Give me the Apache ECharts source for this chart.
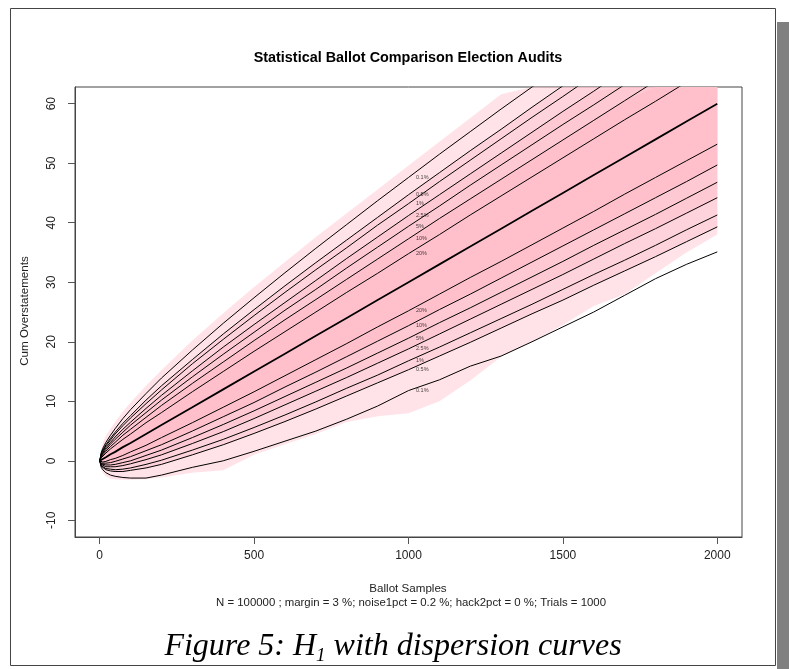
<!DOCTYPE html>
<html>
<head>
<meta charset="utf-8">
<script src="https://cdn.jsdelivr.net/npm/echarts@6/dist/echarts.min.js"></script>
<style>
    html, body { margin: 0; padding: 0; background: #fff; }
    #chart { width: 789px; height: 669px; }
</style>
</head>
<body>
<div id="chart"></div>
<script>
// 抽样点（Ballot Samples）
const ballotSamples = [0, 5, 10, 20, 35, 50, 75, 100, 150, 200, 300, 400, 500, 600, 700, 800, 900, 1000, 1100, 1200, 1300, 1400, 1500, 1600, 1700, 1800, 1900, 2000];

// 分位数曲线（从图上读出，超出上边框之后为 null）
const upper01 = [0, 1.4, 2.1, 3.1, 4.3, 5.4, 7.1, 8.6, 11.3, 13.9, 18.6, 23.1, 27.4, 31.6, 35.7, 39.7, 43.7, 47.6, 51.5, 55.3, 59.1, 62.8, 66.5, null, null, null, null, null];
const upper05 = [0, 1.2, 1.8, 2.7, 3.8, 4.8, 6.3, 7.6, 10.2, 12.6, 17.0, 21.3, 25.4, 29.4, 33.3, 37.1, 40.9, 44.7, 48.4, 52.1, 55.7, 59.4, 63.0, null, null, null, null, null];
const upper1 = [0, 1.1, 1.6, 2.5, 3.5, 4.5, 5.9, 7.2, 9.6, 11.9, 16.3, 20.4, 24.4, 28.3, 32.1, 35.8, 39.6, 43.2, 46.9, 50.5, 54.1, 57.7, 61.2, 64.8, null, null, null, null];
const upper25 = [0, 0.9, 1.4, 2.2, 3.1, 4.0, 5.3, 6.5, 8.8, 11.0, 15.1, 19.1, 22.9, 26.6, 30.3, 34.0, 37.6, 41.2, 44.7, 48.2, 51.7, 55.2, 58.7, 62.1, 65.6, null, null, null];
const upper5 = [0, 0.8, 1.2, 1.9, 2.8, 3.6, 4.8, 6.0, 8.1, 10.2, 14.1, 17.9, 21.6, 25.3, 28.8, 32.4, 35.9, 39.4, 42.8, 46.3, 49.7, 53.1, 56.5, 59.8, 63.2, null, null, null];
const upper10 = [0, 0.7, 1.0, 1.6, 2.4, 3.1, 4.3, 5.3, 7.3, 9.3, 13.0, 16.6, 20.2, 23.7, 27.1, 30.5, 33.9, 37.3, 40.7, 44.0, 47.3, 50.6, 53.9, 57.2, 60.5, 63.8, null, null];
const upper20 = [0, 0.5, 0.8, 1.3, 2.0, 2.6, 3.6, 4.5, 6.4, 8.1, 11.6, 15.0, 18.4, 21.7, 25.0, 28.3, 31.5, 34.8, 38.0, 41.3, 44.5, 47.7, 50.9, 54.1, 57.3, 60.4, 63.6, null];
const median = [0, 0.2, 0.3, 0.6, 1.1, 1.5, 2.3, 3.0, 4.5, 6.0, 9.0, 12.0, 15.0, 18.0, 21.0, 24.0, 27.0, 30.0, 33.0, 36.0, 39.0, 42.0, 45.0, 48.0, 51.0, 54.0, 57.0, 60.0];
const lower20 = [0, -0.2, -0.2, -0.1, 0.2, 0.4, 0.9, 1.5, 2.6, 3.9, 6.4, 9.0, 11.6, 14.3, 17.0, 19.7, 22.5, 25.2, 28.0, 30.8, 33.5, 36.3, 39.1, 41.9, 44.8, 47.6, 50.4, 53.2];
const lower10 = [0, -0.4, -0.4, -0.4, -0.3, -0.1, 0.3, 0.7, 1.7, 2.7, 5.0, 7.4, 9.8, 12.4, 14.9, 17.5, 20.1, 22.7, 25.4, 28.0, 30.7, 33.4, 36.1, 38.8, 41.5, 44.2, 46.9, 49.7];
const lower5 = [0, -0.5, -0.6, -0.7, -0.7, -0.6, -0.3, 0.0, 0.9, 1.8, 3.9, 6.1, 8.4, 10.8, 13.2, 15.6, 18.1, 20.6, 23.2, 25.7, 28.3, 30.9, 33.5, 36.2, 38.8, 41.4, 44.1, 46.8];
const lower25 = [0, -0.6, -0.8, -1.0, -1.0, -1.0, -0.8, -0.5, 0.2, 1.0, 2.9, 4.9, 7.1, 9.4, 11.7, 14.0, 16.4, 18.8, 21.3, 23.8, 26.3, 28.8, 31.3, 33.9, 36.5, 39.0, 41.6, 44.2];
const lower1 = [0, -0.8, -1.0, -1.3, -1.4, -1.5, -1.4, -1.2, -0.6, 0.1, 1.8, 3.6, 5.6, 7.7, 9.9, 12.2, 14.4, 16.8, 19.1, 21.5, 23.9, 26.3, 28.8, 31.3, 33.7, 36.2, 38.8, 41.3];
const lower05 = [0, -0.9, -1.2, -1.5, -1.7, -1.8, -1.8, -1.6, -1.2, -0.6, 1.0, 2.7, 4.6, 6.6, 8.7, 10.9, 13.1, 15.3, 17.6, 19.9, 22.3, 24.7, 27.0, 29.5, 31.9, 34.3, 36.8, 39.3];
const lower01 = [0, -1.1, -1.5, -2.0, -2.4, -2.6, -2.8, -2.9, -2.9, -2.4, -1.1, 0.0, 1.6, 3.3, 5.0, 7.0, 9.2, 11.8, 13.6, 15.9, 17.6, 20.0, 22.5, 25.0, 27.8, 30.6, 33.0, 35.1];

// 1000 次试验的粉色范围（上下包络）
const trialsMax = [0, 2.0, 3.0, 4.2, 5.4, 6.5, 8.3, 9.8, 12.6, 15.2, 20.2, 24.8, 29.2, 33.4, 37.6, 41.6, 45.6, 49.6, 53.6, 57.6, 61.6, 62.8, 62.8, 62.8, 62.8, 62.8, 62.8, 62.8];
const trialsMin = [0, -1.5, -2.0, -2.6, -3.0, -3.1, -3.2, -3.2, -3.1, -2.8, -2.0, -1.6, 1.0, 2.8, 4.5, 6.5, 7.5, 8.0, 10.0, 13.5, 17.5, 20.0, 22.8, 26.0, 28.0, 31.5, 35.0, 38.0];

// 刻度
const xTicks = [0, 500, 1000, 1500, 2000];
const yTicks = [-10, 0, 10, 20, 30, 40, 50, 60];

// 标签写在 n = 1000 处
const LABEL_N = 1000;

const X_MIN = -80, X_MAX = 2080;
const Y_MIN = -12.8, Y_MAX = 62.8;
const PINK = '#ffc0cb';

const curves = [
    { label: '0.1%', data: upper01 },
    { label: '0.5%', data: upper05 },
    { label: '1%', data: upper1 },
    { label: '2.5%', data: upper25 },
    { label: '5%', data: upper5 },
    { label: '10%', data: upper10 },
    { label: '20%', data: upper20 },
    { label: null, data: median, width: 1.8 },
    { label: '20%', data: lower20 },
    { label: '10%', data: lower10 },
    { label: '5%', data: lower5 },
    { label: '2.5%', data: lower25 },
    { label: '1%', data: lower1 },
    { label: '0.5%', data: lower05 },
    { label: '0.1%', data: lower01 }
];

function pairs(ys) {
    return ballotSamples.map((n, i) => [n, ys[i]]);
}

function capY(v) {
    return v == null ? Y_MAX : Math.min(v, Y_MAX);
}

// 两条曲线之间的带，用 custom 多边形画
function band(lo, hi, opacity) {
    const rows = ballotSamples.map((n, i) => [n, capY(lo[i]), capY(hi[i])]);
    return {
        type: 'custom',
        silent: true,
        z: 1,
        data: [0],
        renderItem: function (params, api) {
            const top = rows.map(r => api.coord([r[0], r[2]]));
            const bottom = rows.map(r => api.coord([r[0], r[1]])).reverse();
            return {
                type: 'polygon',
                shape: { points: top.concat(bottom) },
                style: { fill: PINK, opacity: opacity }
            };
        }
    };
}

const chart = echarts.init(document.getElementById('chart'));
const labelIdx = ballotSamples.indexOf(LABEL_N);

const series = [
    band(trialsMin, trialsMax, 0.45),
    band(lower05, upper05, 0.45),
    band(lower25, upper25, 0.5),
    band(lower10, upper10, 0.9),
    ...curves.map(c => ({
        type: 'line',
        data: pairs(c.data),
        symbol: 'none',
        silent: true,
        z: 3,
        lineStyle: { color: '#000', width: c.width || 1 }
    })),
    {
        type: 'scatter',
        symbolSize: 1,
        silent: true,
        z: 4,
        itemStyle: { color: 'rgba(0,0,0,0)' },
        data: curves.filter(c => c.label).map(c => [LABEL_N, c.data[labelIdx], c.label]),
        label: {
            show: true,
            position: 'right',
            distance: 7,
            fontSize: 5.5,
            fontFamily: 'Liberation Sans',
            color: '#111',
            formatter: p => p.value[2]
        }
    }
];

const axisFont = { fontFamily: 'Liberation Sans', fontSize: 12, color: '#222', formatter: v => String(v) };

chart.setOption({
    animation: false,
    grid: {
        left: 75, right: 47, top: 87, bottom: 132,
        show: true, borderColor: '#444', borderWidth: 1, backgroundColor: 'transparent'
    },
    xAxis: {
        type: 'value', min: X_MIN, max: X_MAX,
        axisLine: { show: true, onZero: false, lineStyle: { color: '#444' } },
        axisTick: { show: true, length: 7, lineStyle: { color: '#555' }, customValues: xTicks },
        axisLabel: Object.assign({ margin: 13, customValues: xTicks }, axisFont),
        splitLine: { show: false }
    },
    yAxis: {
        type: 'value', min: Y_MIN, max: Y_MAX,
        axisLine: { show: true, onZero: false, lineStyle: { color: '#444' } },
        axisTick: { show: true, length: 7, lineStyle: { color: '#555' }, customValues: yTicks },
        axisLabel: Object.assign({ margin: 17, rotate: 90, customValues: yTicks }, axisFont),
        splitLine: { show: false }
    },
    graphic: [
        { type: 'rect', silent: true, shape: { x: 10.5, y: 8.5, width: 765, height: 657 },
          style: { fill: null, stroke: '#444', lineWidth: 1 } },
        { type: 'rect', silent: true, shape: { x: 777, y: 22, width: 12, height: 647 },
          style: { fill: '#808080' } },
        { type: 'text', silent: true, x: 408, y: 58,
          style: { text: 'Statistical Ballot Comparison Election Audits', fontFamily: 'Liberation Sans',
                   fontWeight: 'bold', fontSize: 14.4, fill: '#000', align: 'center', verticalAlign: 'middle' } },
        { type: 'text', silent: true, x: 25, y: 311, rotation: Math.PI / 2,
          style: { text: 'Cum Overstatements', fontFamily: 'Liberation Sans', fontSize: 11.6,
                   fill: '#222', align: 'center', verticalAlign: 'middle' } },
        { type: 'text', silent: true, x: 408, y: 589,
          style: { text: 'Ballot Samples', fontFamily: 'Liberation Sans', fontSize: 11.6,
                   fill: '#222', align: 'center', verticalAlign: 'middle' } },
        { type: 'text', silent: true, x: 411, y: 603,
          style: { text: 'N = 100000 ; margin = 3 %; noise1pct = 0.2 %; hack2pct = 0 %; Trials = 1000',
                   fontFamily: 'Liberation Sans', fontSize: 11.4, fill: '#222', align: 'center', verticalAlign: 'middle' } },
        { type: 'text', silent: true, x: 393, y: 647,
          style: {
              text: '{a|Figure 5: H}{s|1}{a| with dispersion curves}',
              align: 'center', verticalAlign: 'middle',
              rich: {
                  a: { fontFamily: 'Liberation Serif', fontStyle: 'italic', fontSize: 32, fill: '#000', lineHeight: 36, verticalAlign: 'middle' },
                  s: { fontFamily: 'Liberation Serif', fontStyle: 'italic', fontSize: 19, fill: '#000', lineHeight: 36, verticalAlign: 'bottom' }
              }
          } }
    ],
    series: series
});
</script>
</body>
</html>
